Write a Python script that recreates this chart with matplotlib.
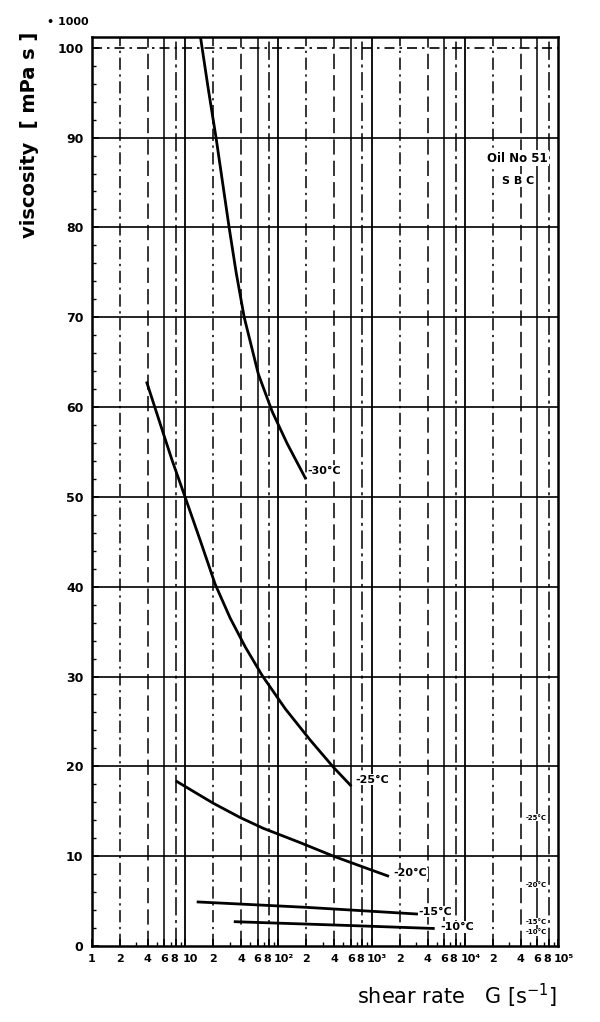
import numpy as np
import matplotlib
matplotlib.use("Agg")
import matplotlib.pyplot as plt
from matplotlib.transforms import ScaledTranslation

# Curve data (shear rate in 1/s, viscosity in mPa s)
t30_x = [14.5, 17.7, 21.5, 29.7, 35.3, 43.1, 61, 86, 125, 195]
t30_y = [101.5, 95.5, 90, 80, 75, 70, 63.7, 59.5, 55.9, 52.1]

t25_x = [3.9, 5.39, 7.25, 10, 14.5, 21, 30.5, 44.2, 67.3, 119, 221, 390, 594]
t25_y = [62.7, 58.2, 54.1, 50, 45.2, 40.3, 36.5, 33.3, 30.1, 26.4, 22.9, 19.9, 17.9]

t20_x = [8.2, 12.8, 20, 39, 69, 172, 390, 760, 1490]
t20_y = [18.3, 17.1, 15.9, 14.3, 13.1, 11.5, 10, 8.9, 7.8]

t15_x = [13.8, 200, 3040]
t15_y = [4.9, 4.3, 3.56]

t10_x = [34.5, 500, 4600]
t10_y = [2.7, 2.3, 1.95]

curve_labels = ["-30°C", "-25°C", "-20°C", "-15°C", "-10°C"]
label_pos = [(205, 52.9), (675, 18.5), (1730, 8.1), (3200, 3.8), (5500, 2.1)]

side_labels = ["-25°C", "-20°C", "-15°C", "-10°C"]
side_y = [14.3, 6.8, 2.7, 1.5]

y_ticks = [0, 10, 20, 30, 40, 50, 60, 70, 80, 90, 100]
decades = [1, 10, 100, 1000, 10000]
dec_names = ["1", "10", "10²", "10³", "10⁴"]
subs = [2, 4, 6, 8]

# Figure
fig = plt.figure(figsize=(6, 10.22), dpi=100)
ax = fig.add_axes([0.153, 0.0744, 0.777, 0.8894])
ax.set_xscale("log")
ax.set_xlim(1, 1e5)
ax.set_ylim(0, 101.2)

# paper grid
for v in y_ticks[1:-1]:
    ax.axhline(v, color="black", lw=1.2, zorder=1)
ax.axhline(100, color="black", lw=1.2, ls=(0, (6, 3, 1.5, 3)), zorder=1)

styles = {2: (0, (8, 3, 1.5, 3)), 4: (0, (10, 4)), 6: "-", 8: (0, (12, 3, 2, 3))}
for d in decades:
    if d > 1:
        ax.axvline(d, color="black", lw=1.3, zorder=1)
    for s in subs:
        ax.axvline(d * s, color="black", lw=1.1, ls=styles[s], zorder=1)

for xs, ys in [(t30_x, t30_y), (t25_x, t25_y), (t20_x, t20_y), (t15_x, t15_y), (t10_x, t10_y)]:
    ax.plot(xs, ys, color="black", lw=2, zorder=3, solid_joinstyle="round")

for lab, (lx, ly) in zip(curve_labels, label_pos):
    ax.text(lx, ly, lab, fontsize=8, fontweight="bold", va="center", ha="left", zorder=4,
            bbox=dict(facecolor="white", edgecolor="none", pad=0.5))

for lab, ly in zip(side_labels, side_y):
    ax.text(45000, ly, lab, fontsize=5, fontweight="bold", va="center", ha="left", zorder=4,
            bbox=dict(facecolor="white", edgecolor="none", pad=0.2))

ax.text(37000, 87.7, "Oil No 51", fontsize=8.5, fontweight="bold", ha="center", va="center",
        zorder=4, bbox=dict(facecolor="white", edgecolor="none", pad=1))
ax.text(37000, 85.2, "S B C", fontsize=8, fontweight="bold", ha="center", va="center",
        zorder=4, bbox=dict(facecolor="white", edgecolor="none", pad=1))

# ticks
ax.set_yticks(y_ticks)
ax.set_yticklabels([str(v) for v in y_ticks], fontsize=9, fontweight="bold")
ax.set_yticks(np.arange(2, 100, 2), minor=True)

xt, xl, is_dec = [], [], []
for d, name in zip(decades, dec_names):
    xt.append(d)
    xl.append(name)
    is_dec.append(d > 1)
    for s in subs:
        xt.append(d * s)
        xl.append(str(s))
        is_dec.append(False)
xt.append(1e5)
xl.append("10⁵")
is_dec.append(True)
ax.set_xticks(xt)
ax.set_xticklabels(xl, fontsize=8, fontweight="bold")
ax.set_xticks([d * m for d in decades for m in [3, 5, 7, 9]], minor=True)
ax.xaxis.set_minor_formatter(plt.NullFormatter())

ax.tick_params(axis="both", which="major", direction="in", length=5, width=1.2, pad=6)
ax.tick_params(axis="both", which="minor", direction="in", length=3, width=1)

# nudge decade labels right so they sit next to the "8"
shift = ScaledTranslation(4 / 72, 0, fig.dpi_scale_trans)
back = ScaledTranslation(-1.5 / 72, 0, fig.dpi_scale_trans)
for lbl, dec, val in zip(ax.get_xticklabels(), is_dec, xt):
    if dec:
        lbl.set_transform(lbl.get_transform() + shift)
    elif val in [8 * d for d in decades]:
        lbl.set_transform(lbl.get_transform() + back)

for sp in ax.spines.values():
    sp.set_linewidth(1.8)

fig.text(0.147, 0.978, "• 1000", fontsize=8, fontweight="bold", ha="right", va="center")
fig.text(0.05, 0.868, "viscosity  [ mPa s ]", rotation=90, fontsize=14, fontweight="bold",
         ha="center", va="center")
fig.text(0.928, 0.026, "shear rate   G [s$^{-1}$]", fontsize=15, ha="right", va="center")

fig.savefig("out.png", dpi=100, facecolor="white")
